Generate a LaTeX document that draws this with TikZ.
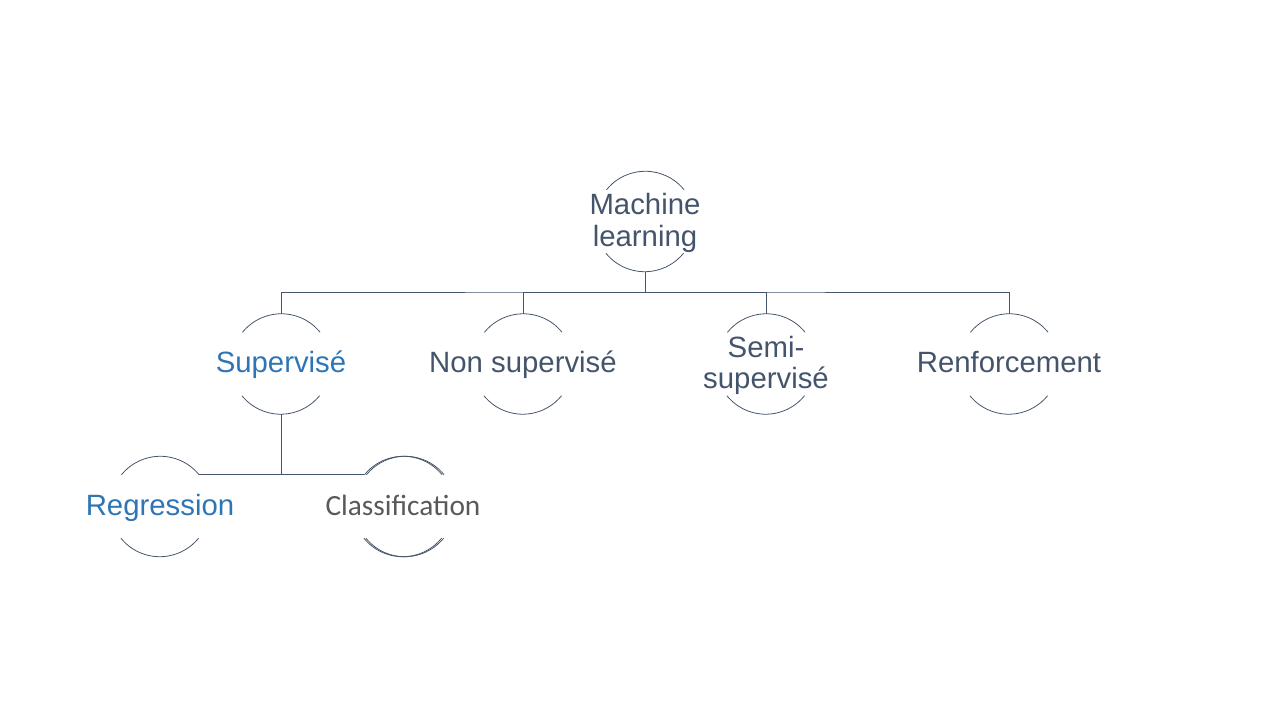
\documentclass[tikz,border=0pt]{standalone}
\usepackage{fontspec}
\setmainfont{Liberation Sans}
\newfontfamily\calibri{Carlito}
\definecolor{slate}{HTML}{44546A}
\definecolor{bluetxt}{HTML}{2E75B6}
\definecolor{graytxt}{HTML}{595959}
\tikzset{
  mlnode/.style={circle,minimum size=2cm,inner sep=0pt,text=slate,
    font=\fontsize{16.7}{18}\selectfont},
  link/.style={draw=slate,line width=0.55pt},
  rim/.style={draw=slate,line width=0.45pt}
}
\newcommand{\ctext}[1]{\makebox[0pt]{\raisebox{-1.5pt}[\height][\depth]{\begin{tabular}{@{}c@{}}#1\end{tabular}}}}
\begin{document}
\begin{tikzpicture}
\useasboundingbox (0,0) rectangle (25.6,14.4);
\node[mlnode] (ml) at (12.9,9.97){\ctext{Machine\\learning}};
\node[mlnode,text=bluetxt] (sup) at (5.62,7.12){\ctext{Supervisé}};
\node[mlnode] (non) at (10.46,7.12){\ctext{Non supervisé}};
\node[mlnode] (semi) at (15.32,7.12){\ctext{Semi-\\supervisé}};
\node[mlnode] (ren) at (20.18,7.12){\ctext{Renforcement}};
\node[mlnode,text=bluetxt] (reg) at (3.2,4.27){\ctext{Regression}};
\node[mlnode,text=graytxt,font=\calibri\fontsize{16.7}{18}\selectfont] (cla) at (8.06,4.27){\ctext{Classification}};
% arcs above and below the labels
\foreach \n in {ml,sup,non,semi,ren,reg,cla}{
  \draw[rim] (\n.39) arc[start angle=39,end angle=141,radius=1cm];
  \draw[rim] (\n.219) arc[start angle=219,end angle=321,radius=1cm];
}
\draw[rim] ([xshift=0.04cm]cla.39) arc[start angle=39,end angle=141,radius=1cm];
\draw[rim] ([xshift=0.04cm]cla.219) arc[start angle=219,end angle=321,radius=1cm];
% tree
\coordinate (bus) at (12.9,8.56);
\draw[link] (ml.south)--(bus);
\draw[link] (sup.north)|-(bus)-|(ren.north);
\draw[link] (non.north)|-(bus);
\draw[link] (semi.north)|-(bus);
\draw[link] (reg.39)--(cla.141);
\draw[link] (sup.south)--(sup.south |- reg.39);
\end{tikzpicture}
\end{document}
